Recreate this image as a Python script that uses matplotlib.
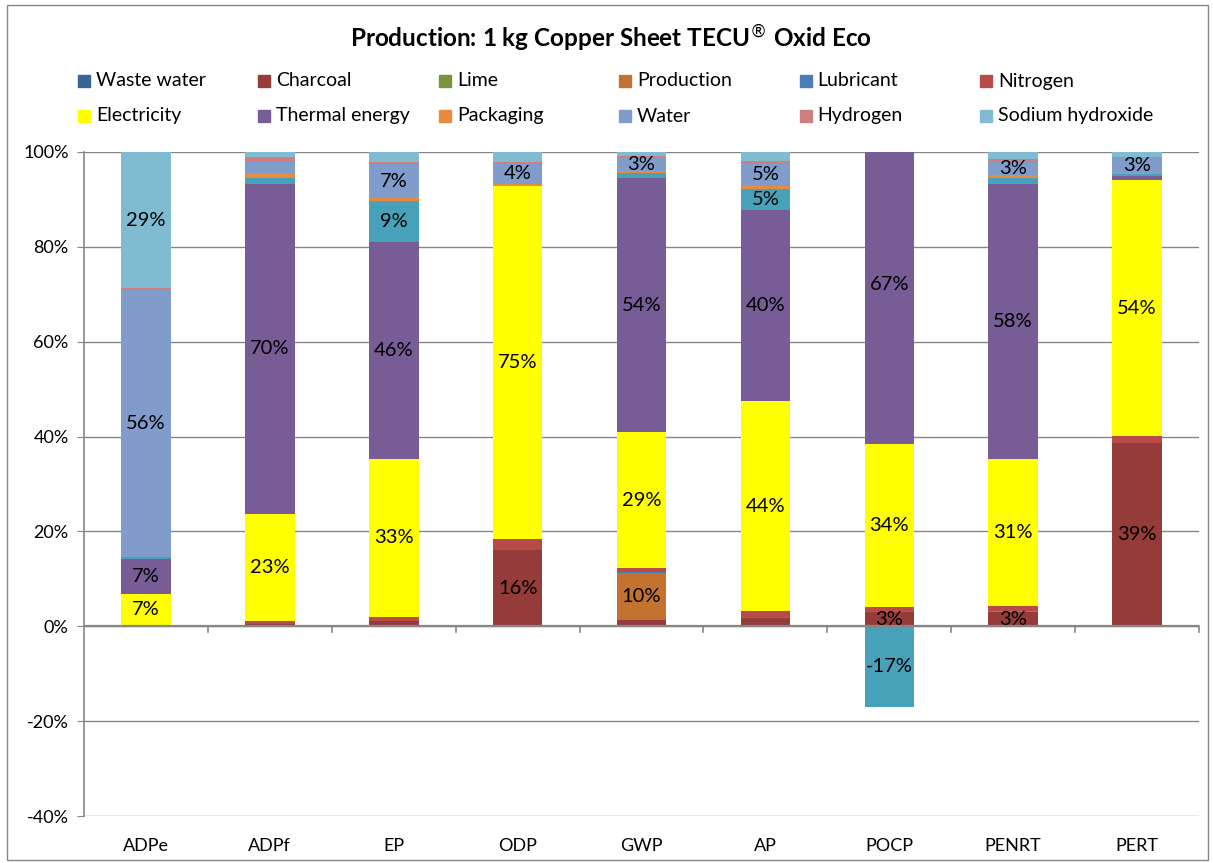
import numpy as np
import matplotlib.pyplot as plt
from matplotlib.patches import Rectangle

plt.rcParams['font.family'] = ['Lato', 'DejaVu Sans']

categories = ['ADPe', 'ADPf', 'EP', 'ODP', 'GWP', 'AP', 'POCP', 'PENRT', 'PERT']

# share of each contributor in %, stacked bottom -> top
waste_water = [0.0, 0.2, 0.0, 0.0, 0.0, 0.0, 0.0, 0.0, 0.0]
charcoal = [0.3, 0.3, 1.2, 16.0, 1.3, 1.7, 3.0, 3.0, 38.6]
lime = [0.0, 0.0, 0.0, 0.0, 0.2, 0.0, 0.0, 0.2, 0.0]
production = [0.0, 0.0, 0.0, 0.0, 9.7, 0.0, 0.0, 0.0, 0.0]
lubricant = [0.0, 0.0, 0.0, 0.0, 0.3, 0.3, 0.3, 0.0, 0.0]
nitrogen = [0.0, 0.6, 0.8, 2.3, 0.8, 1.3, 0.8, 1.0, 1.5]
electricity = [6.6, 22.6, 33.3, 74.6, 28.6, 44.1, 34.4, 31.0, 54.0]
thermal_energy = [7.2, 69.6, 45.8, 0.0, 53.6, 40.3, 67.0, 58.0, 0.8]
other = [0.6, 1.3, 8.6, 0.0, 1.0, 4.6, -17.0, 1.3, 0.4]
packaging = [0.0, 1.0, 0.5, 0.3, 0.4, 0.6, 0.0, 0.6, 0.2]
water = [56.3, 2.3, 7.2, 4.4, 3.0, 4.6, 0.0, 2.7, 3.2]
hydrogen = [0.3, 1.0, 0.4, 0.3, 0.2, 0.6, 0.0, 0.8, 0.2]
sodium_hydroxide = [28.7, 1.0, 2.1, 2.1, 0.9, 1.9, 0.0, 1.3, 1.1]

series = [
    ('Waste water', waste_water, '#3A6496'),
    ('Charcoal', charcoal, '#953C3B'),
    ('Lime', lime, '#77933C'),
    ('Production', production, '#C4722F'),
    ('Lubricant', lubricant, '#4A7CB8'),
    ('Nitrogen', nitrogen, '#B84B49'),
    ('Electricity', electricity, '#FFFF00'),
    ('Thermal energy', thermal_energy, '#775C96'),
    (None, other, '#47A2B9'),
    ('Packaging', packaging, '#E98B3E'),
    ('Water', water, '#7F9CCA'),
    ('Hydrogen', hydrogen, '#CD7F7F'),
    ('Sodium hydroxide', sodium_hydroxide, '#7FBCD2'),
]

W, H = 1213, 863
fig = plt.figure(figsize=(W / 100, H / 100), dpi=100)
ax = fig.add_axes([84 / W, 1 - 816 / H, (1199 - 84) / W, (816 - 152) / H])

x = np.arange(len(categories))
pos_base = np.zeros(len(categories))
neg_base = np.zeros(len(categories))
for name, vals, color in series:
    v = np.array(vals)
    bottom = np.where(v >= 0, pos_base, neg_base)
    ax.bar(x, v, width=0.4, bottom=bottom, color=color, linewidth=0, zorder=3)
    for i in range(len(v)):
        if abs(v[i]) >= 2.5:
            ax.text(x[i], bottom[i] + v[i] / 2, f'{v[i]:.0f}%', ha='center', va='center',
                    fontsize=14.5, color='black', zorder=4, clip_on=True)
    pos_base = np.where(v >= 0, pos_base + v, pos_base)
    neg_base = np.where(v < 0, neg_base + v, neg_base)

ax.set_xlim(-0.5, len(categories) - 0.5)
ax.set_ylim(-40, 100)
ax.set_yticks(np.arange(-40, 101, 20))
ax.set_yticklabels([f'{t}%' for t in range(-40, 101, 20)], fontsize=13)
ax.set_xticks(x)
ax.set_xticklabels(categories, fontsize=13)
ax.tick_params(axis='x', length=0, pad=16)
ax.tick_params(axis='y', length=5, color='#868686', pad=6)
ax.grid(axis='y', color='#868686', linewidth=1, zorder=0)
for s in ['top', 'right', 'bottom']:
    ax.spines[s].set_visible(False)
ax.spines['left'].set_color('#868686')
ax.spines['left'].set_linewidth(1.2)

# horizontal axis at 0 with category separators
ax.axhline(0, color='#868686', linewidth=1.6, zorder=5)
for b in np.arange(0.5, len(categories), 1.0):
    ax.plot([b, b], [0, -1.1], color='#868686', linewidth=1.2, zorder=5, clip_on=False)

fig.text(611 / W, 1 - 38 / H, 'Production: 1 kg Copper Sheet TECU$^{®}$ Oxid Eco',
         ha='center', va='center', fontsize=17.5, fontweight='bold')

# legend, 2 rows x 6 columns
legend_items = [(n, c) for n, _, c in series if n is not None]
for k, (name, color) in enumerate(legend_items):
    row, col = divmod(k, 6)
    sx = 78 + 180.4 * col
    sy = 81 + 35 * row
    fig.patches.append(Rectangle((sx / W, 1 - (sy + 6) / H), 12 / W, 12 / H,
                                 transform=fig.transFigure, color=color))
    fig.text((sx + 18) / W, 1 - sy / H, name, ha='left', va='center', fontsize=14)

fig.patches.append(Rectangle((7 / W, 3 / H), (W - 12) / W, (H - 8) / H, transform=fig.transFigure,
                             fill=False, edgecolor='#868686', linewidth=1))

fig.savefig('out.png', dpi=100)
